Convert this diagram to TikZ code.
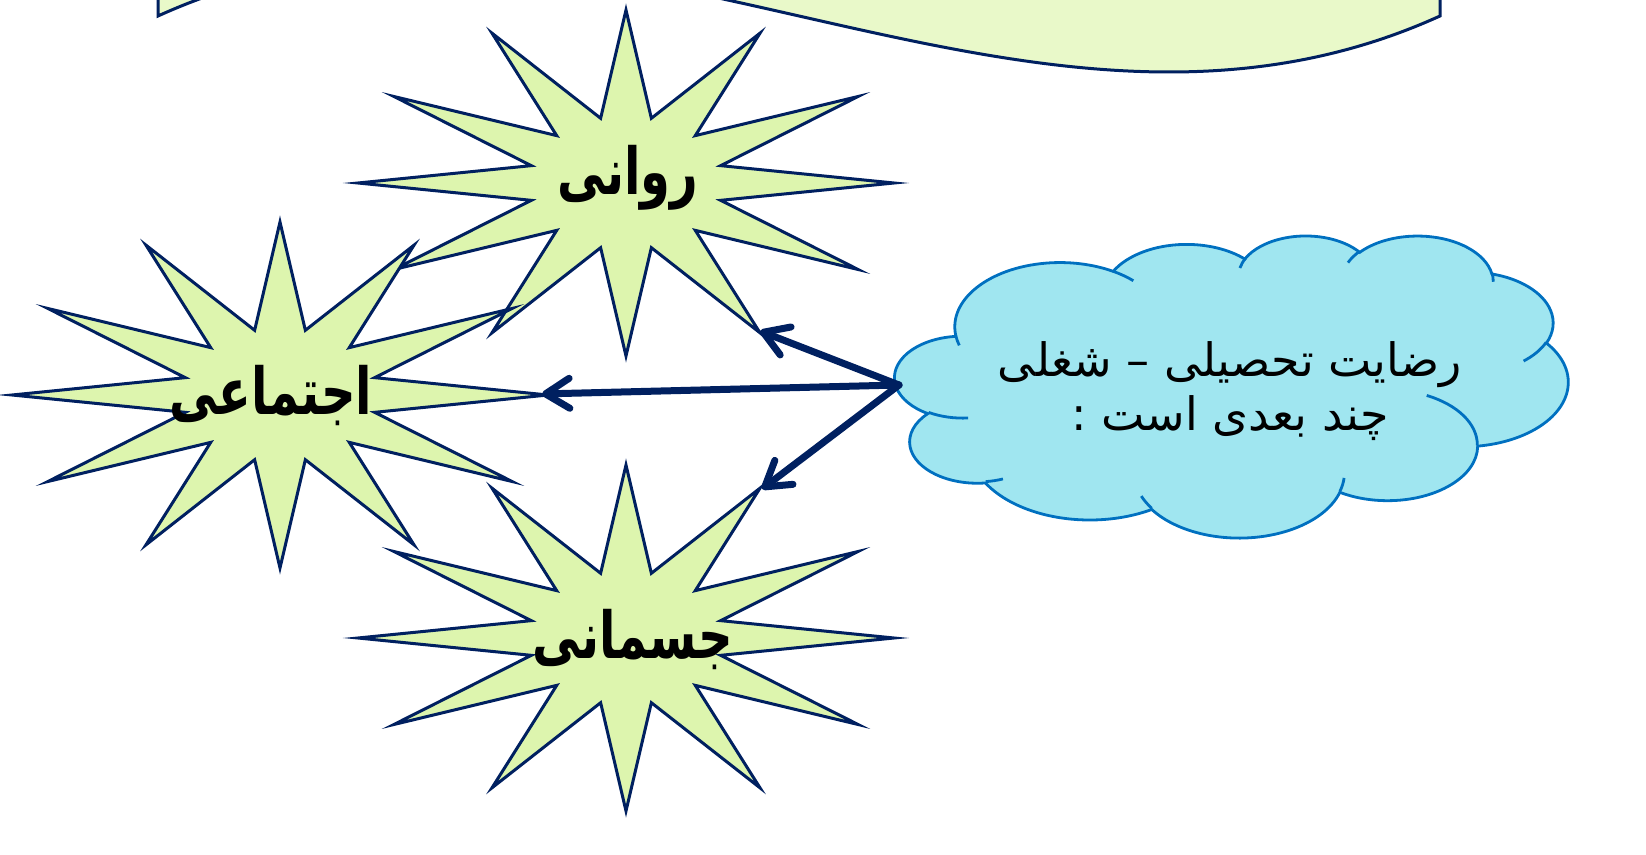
\documentclass[tikz,border=0pt]{standalone}
\usepackage{fontspec}
\usepackage{graphicx}
\usetikzlibrary{arrows.meta}
\TeXXeTstate=1
\newfontfamily\arabicfont[Script=Arabic]{DejaVu Sans}
\definecolor{navy}{HTML}{002060}
\definecolor{starfill}{HTML}{DDF5AE}
\definecolor{wavefill}{HTML}{E9F9C9}
\definecolor{cloudfill}{HTML}{A0E6F0}
\definecolor{cloudline}{HTML}{0070C0}
\newcommand\tallword[1]{\scalebox{1}[1.35]{\beginR #1\endR}}
\tikzset{
  starshape/.style={draw=navy, fill=starfill, line width=1.5pt, line join=miter, miter limit=30},
  wavestyle/.style={draw=navy, fill=wavefill, line width=1.5pt},
  cloudbody/.style={draw=cloudline, fill=cloudfill, line width=1.4pt},
  cloudmark/.style={draw=cloudline, line width=1.4pt},
  starlabel/.style={font={\arabicfont\bfseries\fontsize{24}{28}\selectfont}, text=black, inner sep=0pt},
  cloudtext/.style={font={\arabicfont\fontsize{23}{27}\selectfont}, text=black, align=center, inner sep=0pt},
  conn/.style={draw=navy, line width=3.5pt, line cap=round, -{Straight Barb[length=12pt,width=15pt,round]}},
}
\newcommand\starpath{%
  (0,-173) \foreach \i [evaluate=\i as \a using 90+15*\i,
     evaluate=\i as \srx using {mod(\i,2)==0 ? 268 : 98},
     evaluate=\i as \sry using {mod(\i,2)==0 ? 173 : 67}] in {1,...,23} { -- ({\srx*cos(\a)},{-\sry*sin(\a)}) } -- cycle}
\begin{document}
\begin{tikzpicture}[x=0.5pt,y=-0.5pt]
\useasboundingbox (0,0) rectangle (1646,855);
\clip (0,0) rectangle (1646,855);
% top wave (cut off)
\draw[wavestyle] (1440,-300) -- (1440,16) .. controls (1012.7,210) and (585.3,-178) .. (158,16) -- (158,-300) -- cycle;
% stars
\begin{scope}[shift={(626,183)}]
  \draw[starshape] \starpath;
\end{scope}
\begin{scope}[shift={(626,638)}]
  \draw[starshape] \starpath;
\end{scope}
\begin{scope}[shift={(280,395)}]
  \draw[starshape] \starpath;
\end{scope}
\node[starlabel] (rawani) at (628,178) {\tallword{روانی}};
\node[starlabel] (ejtemai) at (271,396) {\tallword{اجتماعی}};
\node[starlabel] (jesmani) at (633,640) {\tallword{جسمانی}};
\coordinate (tipA) at (760,331);
\coordinate (tipB) at (542,394);
\coordinate (tipC) at (762,489);
% cloud
\begin{scope}[shift={(895,235)}]
\begin{scope}[x=0.77894pt, y=-0.34954pt]
\draw[cloudbody] (39.00,143.70)
  \foreach \rx/\ry/\cst/\csw in {67.53/91.90/-190.4875/123.7805, 53.33/72.67/-144.1024/89.9452,
     43.65/59.45/-145.8079/99.7230, 48.57/65.95/-130.9861/117.2417, 53.33/72.73/-78.7089/109.0269,
     67.75/92.20/-46.2673/130.2690, 57.85/78.67/0.6250/114.0333, 67.52/92.15/22.4516/115.1726,
     77.20/105.43/66.2426/75.7110, 43.60/59.18/-274.9421/146.7356, 43.45/59.45/-246.8285/152.5226}
  { arc[start angle={atan2(\rx*sin(\cst),\ry*cos(\cst))},
        delta angle={mod(atan2(\rx*sin(\cst+\csw),\ry*cos(\cst+\csw))-atan2(\rx*sin(\cst),\ry*cos(\cst))+720,360)},
        x radius=\rx, y radius=\ry] } -- cycle;
\draw[cloudmark]
  \foreach \px/\py/\rx/\ry/\cst/\csw in {46.93/261.77/43.45/59.45/86.742/26.4295,
     69.28/348.99/43.60/59.18/73.6105/11.4475, 164.78/390.90/67.52/92.15/137.6242/14.0811,
     288.27/347.51/67.52/92.15/6.4533/15.9984, 341.29/229.54/57.85/78.67/-70.2924/70.9174,
     417.98/153.54/53.33/72.73/30.3180/27.7515, 383.24/54.26/48.57/65.95/-13.7443/14.8589,
     290.78/39.52/48.57/65.95/-149.1815/18.1954, 221.41/47.20/43.65/59.45/-163.4943/17.6864,
     140.00/51.92/67.53/91.90/-66.7070/12.3194, 41.27/157.89/67.53/91.90/157.6544/11.8582}
  { (\px,\py) arc[start angle={atan2(\rx*sin(\cst),\ry*cos(\cst))},
        delta angle={mod(atan2(\rx*sin(\cst+\csw),\ry*cos(\cst+\csw))-atan2(\rx*sin(\cst),\ry*cos(\cst))+720,360)},
        x radius=\rx, y radius=\ry] };
\end{scope}
\end{scope}
\coordinate (cloudL) at (899,385);
\node[cloudtext] (ctext) at (1230,391) {\beginR رضایت تحصیلی – شغلی\endR\\\beginR چند بعدی است :\endR};
% connectors
\draw[conn] (cloudL) -- (tipA);
\draw[conn] (cloudL) -- (tipB);
\draw[conn] (cloudL) -- (tipC);
\end{tikzpicture}
\end{document}
